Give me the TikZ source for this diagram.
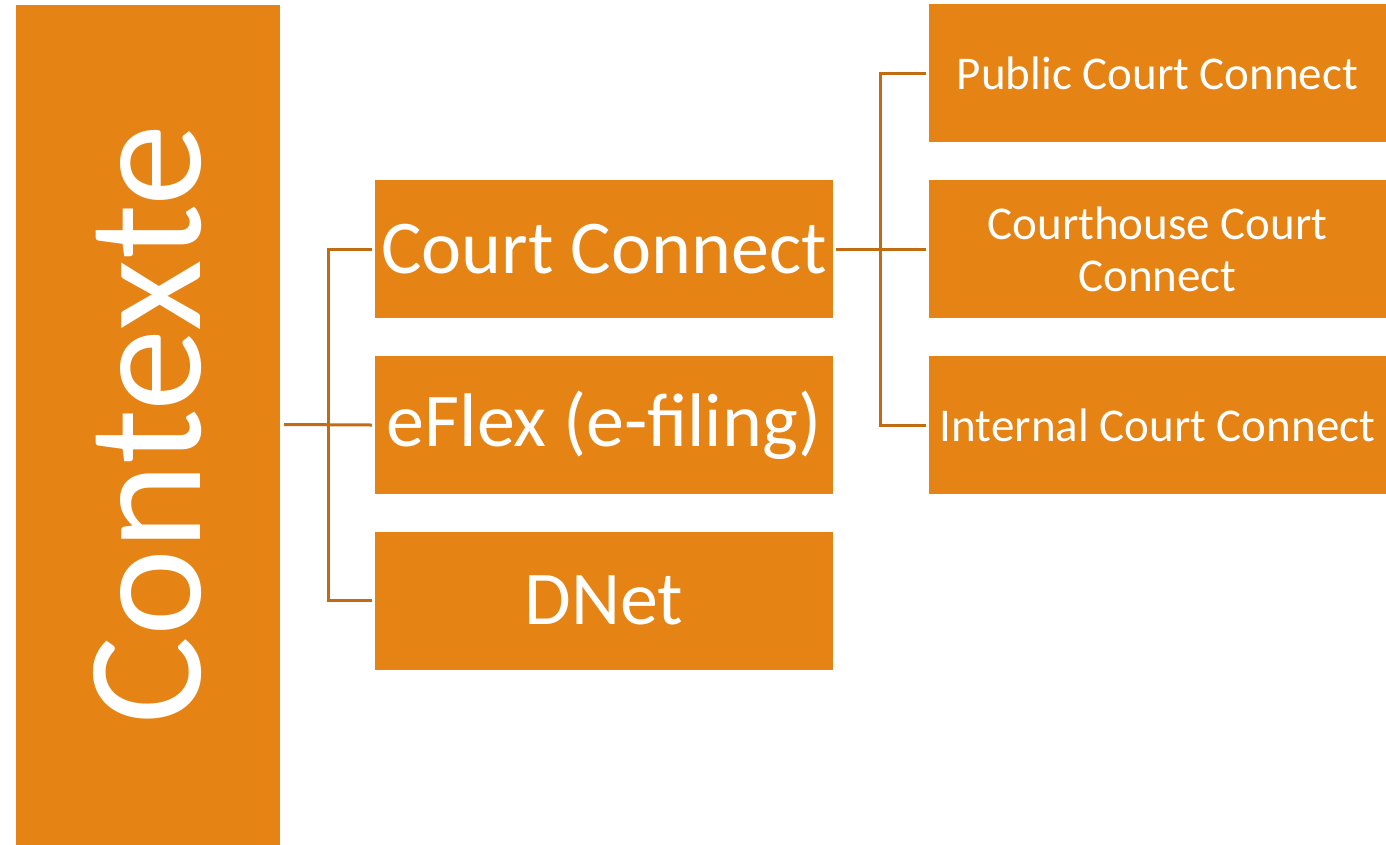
\documentclass[tikz,border=0pt]{standalone}
\usepackage{fontspec}
\setmainfont{Carlito}
\definecolor{boxorange}{HTML}{E58314}
\definecolor{connline}{HTML}{C26B12}
\begin{document}
\begin{tikzpicture}[x=1pt,y=-1pt,
  box/.style={fill=boxorange,draw=none,inner sep=0pt,text=white,align=center},
  midbox/.style={box,minimum width=458pt,minimum height=138pt,font=\fontsize{76}{80}\selectfont},
  rightbox/.style={box,minimum width=457pt,minimum height=138pt,font=\fontsize{47}{52}\selectfont},
  conn/.style={draw=connline,line width=3pt}]
\useasboundingbox (0,0) rectangle (1386,844);
\node[box,minimum width=840pt,minimum height=264pt,rotate=90,font=\fontsize{165}{170}\selectfont] (root) at (148,424.5) {Contexte};
\node[midbox] (cc) at (604,249) {Court Connect};
\node[midbox] (ef) at (604,425) {eFlex (e-filing)};
\node[midbox] (dn) at (604,600.5) {DNet};
\node[rightbox] (pc) at (1157.5,73) {Public Court Connect};
\node[rightbox] (ch) at (1157.5,249) {Courthouse Court\\Connect};
\node[rightbox] (ic) at (1157.5,425) {Internal Court Connect};
\coordinate (lj) at (328,424.5);
\coordinate (rj) at (880,249);
\draw[conn] ([xshift=4]root.south) -- ([xshift=-3]ef.west);
\draw[conn] ([xshift=-3]cc.west) -- (cc.west -| lj) -- (dn.west -| lj) -- ([xshift=-3]dn.west);
\draw[conn] ([xshift=3]cc.east) -- ([xshift=-3]ch.west);
\draw[conn] ([xshift=-3]pc.west) -- (pc.west -| rj) -- (ic.west -| rj) -- ([xshift=-3]ic.west);
\end{tikzpicture}
\end{document}
